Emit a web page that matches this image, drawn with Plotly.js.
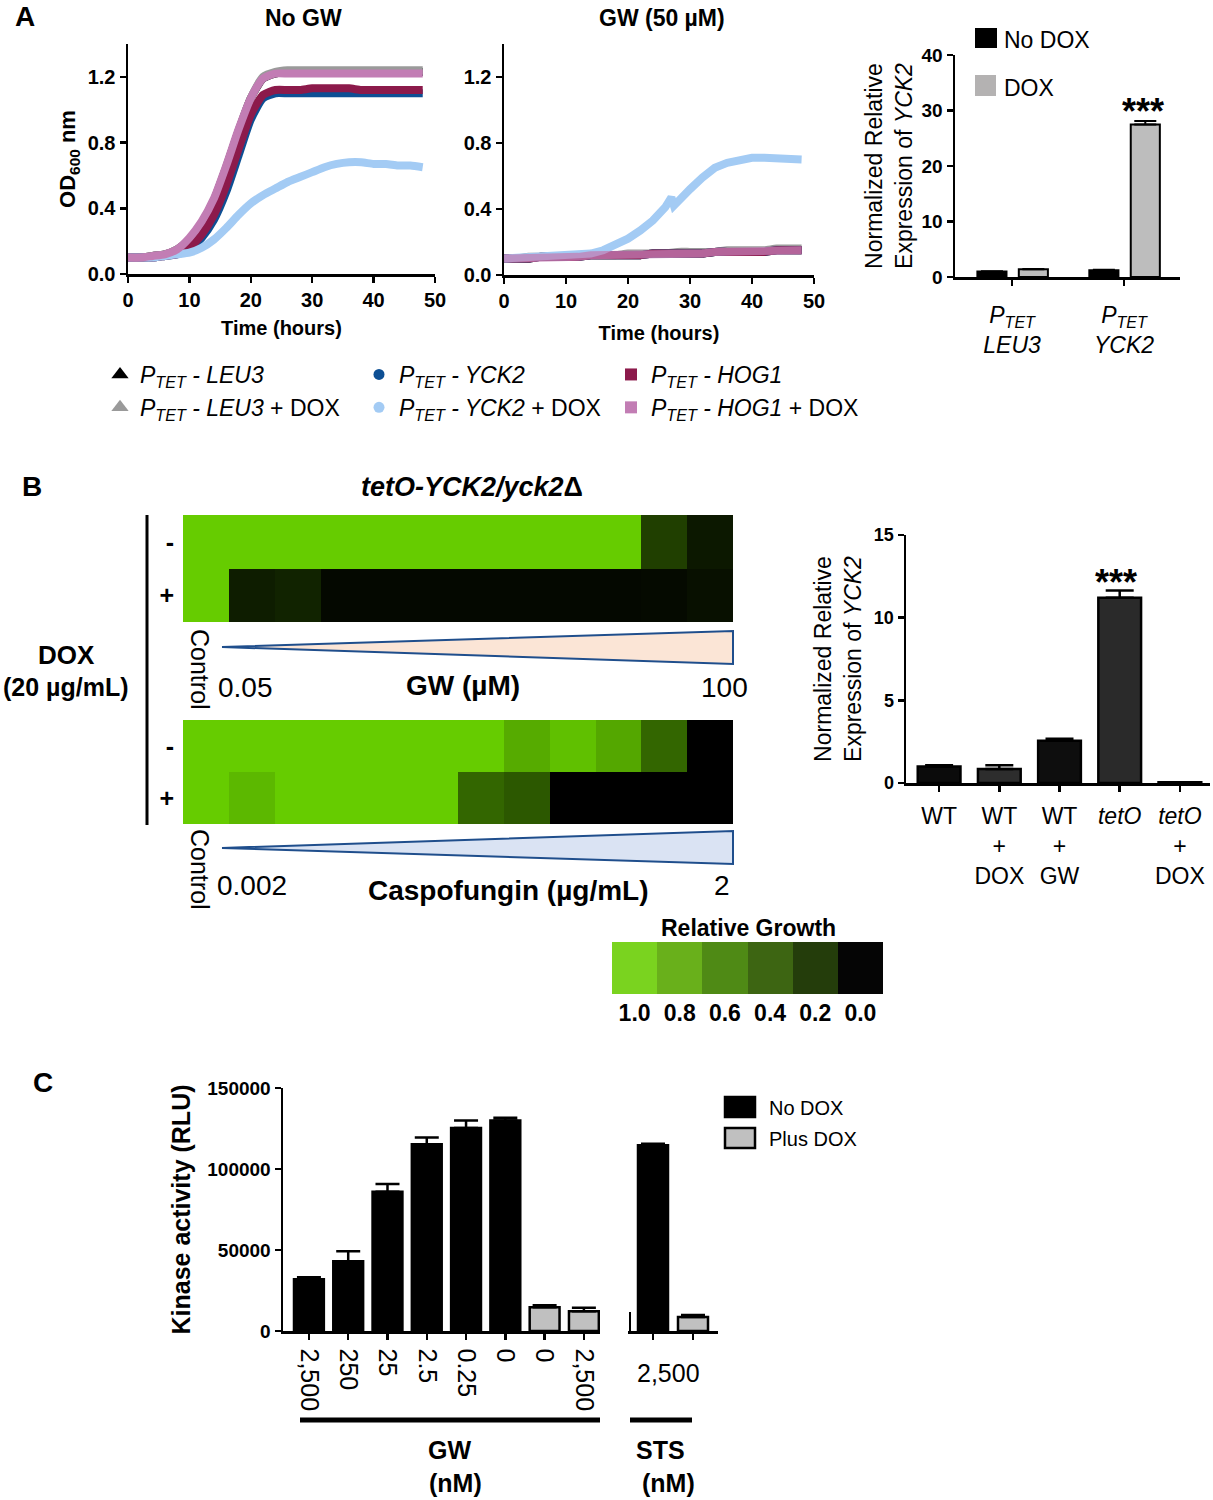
<!DOCTYPE html>
<html><head><meta charset="utf-8">
<script src="https://cdn.plot.ly/plotly-3.0.1.min.js"></script>
<style>body{margin:0;background:#fff}#chart{width:1213px;height:1500px}</style>
</head><body><div id="chart"></div>
<script>
// ---------- Panel A: growth curves ----------
const timeH = [0,2,4,6,8,10,12,14,16,18,20,22,24,26,28,30,32,34,36,38,40,42,44,46,48];
const noGwLeu3     = [0.10,0.10,0.11,0.12,0.15,0.21,0.31,0.45,0.65,0.87,1.07,1.19,1.22,1.23,1.23,1.23,1.23,1.23,1.23,1.23,1.23,1.23,1.23,1.23,1.23];
const noGwLeu3Dox  = [0.10,0.10,0.11,0.12,0.15,0.21,0.31,0.45,0.65,0.87,1.07,1.20,1.23,1.24,1.24,1.24,1.24,1.24,1.24,1.24,1.24,1.24,1.24,1.24,1.24];
const noGwYck2     = [0.10,0.10,0.10,0.11,0.12,0.15,0.22,0.33,0.50,0.72,0.94,1.07,1.10,1.10,1.10,1.10,1.10,1.10,1.10,1.10,1.10,1.10,1.10,1.10,1.10];
const noGwYck2Dox  = [0.10,0.10,0.10,0.11,0.12,0.13,0.16,0.21,0.28,0.36,0.43,0.48,0.52,0.56,0.59,0.62,0.65,0.67,0.68,0.68,0.67,0.67,0.66,0.66,0.65];
const noGwHog1     = [0.10,0.10,0.10,0.11,0.12,0.16,0.24,0.36,0.54,0.76,0.97,1.09,1.12,1.12,1.12,1.13,1.13,1.13,1.13,1.12,1.12,1.12,1.12,1.12,1.12];
const noGwHog1Dox  = [0.10,0.10,0.11,0.12,0.15,0.22,0.32,0.46,0.66,0.88,1.07,1.19,1.22,1.22,1.22,1.22,1.22,1.22,1.22,1.22,1.22,1.22,1.22,1.22,1.22];

const gwLeu3Dox = [0.10,0.10,0.11,0.11,0.11,0.11,0.12,0.12,0.12,0.12,0.13,0.13,0.13,0.13,0.14,0.14,0.14,0.14,0.15,0.15,0.15,0.15,0.16,0.16,0.16];
const gwFlat    = [0.10,0.10,0.10,0.11,0.11,0.11,0.11,0.12,0.12,0.12,0.12,0.12,0.13,0.13,0.13,0.13,0.13,0.14,0.14,0.14,0.14,0.14,0.15,0.15,0.15];
const gwYck2DoxTime = [0,4,8,10,12,14,16,18,20,22,24,26,27,27.4,28,30,32,34,36,38,40,42,44,46,48];
const gwYck2Dox     = [0.10,0.11,0.11,0.12,0.12,0.13,0.15,0.18,0.22,0.27,0.33,0.41,0.47,0.42,0.44,0.52,0.59,0.65,0.68,0.70,0.71,0.71,0.71,0.70,0.70];

const strainNames = ['<i>P<sub>TET</sub> - LEU3</i>','<i>P<sub>TET</sub> - LEU3</i> + DOX',
                     '<i>P<sub>TET</sub> - YCK2</i>','<i>P<sub>TET</sub> - YCK2</i> + DOX',
                     '<i>P<sub>TET</sub> - HOG1</i>','<i>P<sub>TET</sub> - HOG1</i> + DOX'];

// ---------- Panel A: qPCR ----------
const aCats = ['<i>P<sub>TET</sub><br>LEU3</i>','<i>P<sub>TET</sub><br>YCK2</i>'];
const aNoDox = [1.0, 1.2];
const aNoDoxErr = [0.05, 0.1];
const aDox = [1.4, 27.5];
const aDoxErr = [0.05, 0.6];

// ---------- Panel B: heatmaps ----------
const gwMinus = [1,1,1,1,1,1,1,1,1,1,0.31,0.12];
const gwPlus  = [1,0.14,0.17,0.04,0.04,0.04,0.04,0.04,0.04,0.04,0.05,0.08];
const caspoMinus = [1,1,1,1,1,1,1,0.84,0.94,0.82,0.5,0];
const caspoPlus  = [1,0.9,1,1,1,1,0.5,0.43,0,0,0,0];
const doxRows = ['+','-'];

const growthLabels = ['1.0','0.8','0.6','0.4','0.2','0.0'];
const growthLegendVals = [1.0,0.8,0.6,0.4,0.2,0.0];

// ---------- Panel B: qPCR ----------
const bCats = ['WT','WT<br>+<br>DOX','WT<br>+<br>GW','<i>tetO</i>','<i>tetO</i><br>+<br>DOX'];
const bVals = [1.0, 0.85, 2.55, 11.2, 0.04];
const bErr  = [0.07, 0.22, 0.12, 0.45, 0];

// ---------- Panel C: kinase ----------
const cGwLabels = ['2,500','250','25','2.5','0.25','0','0','2,500'];
const cNoDoxGW = [32000, 43000, 86000, 115300, 125300, 129900];
const cNoDoxGWErr = [1200, 6200, 4800, 4100, 4600, 1800];
const cPlusDoxGW = [14700, 12200];
const cPlusDoxGWErr = [1200, 2200];
const cNoDoxSTS = [114700];
const cNoDoxSTSErr = [900];
const cPlusDoxSTS = [8700];
const cPlusDoxSTSErr = [1200];

// ---------- helpers ----------
const W = 1213, H = 1500;
const F = 'Liberation Sans, Arial, Helvetica, sans-serif';
const px = x => x / W;
const py = y => 1 - y / H;
const idx = n => Array.from({length:n}, (_, i) => i);

function ann(text, x, y, size, extra) {
  return Object.assign({text, x: px(x), y: py(y), xref:'paper', yref:'paper', showarrow:false,
    xanchor:'center', yanchor:'middle', font:{family:F, size, color:'#000'}}, extra || {});
}
function bold(size) { return {family:F, size, color:'#000', weight:'bold'}; }

const axBase = {showline:true, linecolor:'#000', linewidth:2.5, ticks:'outside', ticklen:6, tickwidth:2.5,
  tickcolor:'#000', showgrid:false, zeroline:false, fixedrange:true, automargin:false};

const colors = {leu3:'#000000', leu3Dox:'#9a9a9a', yck2:'#0d4f94', yck2Dox:'#a3cbf4', hog1:'#8c1a4b', hog1Dox:'#c27db4'};

const traces = [];
function line(x, y, color, xa, ya, shape) {
  traces.push({type:'scatter', mode:'lines', x, y, xaxis:xa, yaxis:ya, showlegend:false,
    line:{color, width:8, shape: shape || 'spline', smoothing:0.6}, hoverinfo:'skip'});
}
// No GW
line(timeH, noGwLeu3, colors.leu3, 'x', 'y');
line(timeH, noGwLeu3Dox, colors.leu3Dox, 'x', 'y');
line(timeH, noGwYck2, colors.yck2, 'x', 'y');
line(timeH, noGwHog1, colors.hog1, 'x', 'y');
line(timeH, noGwYck2Dox, colors.yck2Dox, 'x', 'y');
line(timeH, noGwHog1Dox, colors.hog1Dox, 'x', 'y');
// GW
line(timeH, gwFlat, colors.leu3, 'x2', 'y2');
line(timeH, gwLeu3Dox, colors.leu3Dox, 'x2', 'y2');
line(timeH, gwFlat, colors.yck2, 'x2', 'y2');
line(timeH, gwFlat, colors.hog1, 'x2', 'y2');
line(gwYck2DoxTime, gwYck2Dox, colors.yck2Dox, 'x2', 'y2', 'linear');
traces.push({type:'scatter', mode:'lines', x:timeH, y:gwFlat, xaxis:'x2', yaxis:'y2', showlegend:false, opacity:0.75,
  line:{color:colors.hog1Dox, width:8}, hoverinfo:'skip'});

// legend-only markers
const legSpec = [
  [strainNames[0], 'triangle-up', colors.leu3, 15, 'legend'],
  [strainNames[1], 'triangle-up', colors.leu3Dox, 15, 'legend'],
  [strainNames[2], 'circle', colors.yck2, 11, 'legend2'],
  [strainNames[3], 'circle', colors.yck2Dox, 11, 'legend2'],
  [strainNames[4], 'square', colors.hog1, 12, 'legend3'],
  [strainNames[5], 'square', colors.hog1Dox, 12, 'legend3'],
];
legSpec.forEach(s => traces.push({type:'scatter', mode:'markers', x:[null], y:[null], xaxis:'x', yaxis:'y',
  name:s[0], legend:s[4], marker:{symbol:s[1], color:s[2], size:s[3]}, showlegend:true}));

// A right bars
traces.push({type:'bar', x:[0,1], y:aNoDox, xaxis:'x3', yaxis:'y3', width:0.26, offset:-0.31, showlegend:false,
  marker:{color:'#000', line:{color:'#000', width:2}},
  error_y:{type:'data', array:aNoDoxErr, arrayminus:[0,0], symmetric:false, color:'#000', thickness:2, width:11}});
traces.push({type:'bar', x:[0,1], y:aDox, xaxis:'x3', yaxis:'y3', width:0.26, offset:0.06, showlegend:false,
  marker:{color:'#bdbdbd', line:{color:'#000', width:2}},
  error_y:{type:'data', array:aDoxErr, arrayminus:[0,0], symmetric:false, color:'#000', thickness:2, width:11}});

// B heatmaps
const heatScale = [[0,'#000000'],[1,'#66cc00']];
traces.push({type:'heatmap', z:[gwPlus, gwMinus], x:idx(12), y:[0,1], xaxis:'x4', yaxis:'y4',
  colorscale:heatScale, zmin:0, zmax:1, showscale:false, hoverinfo:'skip'});
traces.push({type:'heatmap', z:[caspoPlus, caspoMinus], x:idx(12), y:[0,1], xaxis:'x5', yaxis:'y5',
  colorscale:heatScale, zmin:0, zmax:1, showscale:false, hoverinfo:'skip'});
// relative growth key
traces.push({type:'heatmap', z:[growthLegendVals], x:idx(6), y:[0], xaxis:'x7', yaxis:'y7',
  colorscale:[[0,'#050505'],[0.2,'#243d0b'],[0.4,'#3d6512'],[0.6,'#4f8a15'],[0.8,'#69b01b'],[1,'#7ad31f']],
  zmin:0, zmax:1, showscale:false, hoverinfo:'skip'});

// B right bars
traces.push({type:'bar', x:idx(5), y:bVals, xaxis:'x6', yaxis:'y6', width:0.71, showlegend:false,
  marker:{color:['#0b0b0b','#2d2d2d','#0e0e0e','#2a2a2a','#000000'], line:{color:'#000', width:2.5}},
  error_y:{type:'data', array:bErr, arrayminus:[0,0,0,0,0], symmetric:false, color:'#000', thickness:2.5, width:14}});

// C bars
traces.push({type:'bar', x:idx(6), y:cNoDoxGW, xaxis:'x8', yaxis:'y8', width:0.76, offset:-0.38, showlegend:false,
  marker:{color:'#000', line:{color:'#000', width:2.5}},
  error_y:{type:'data', array:cNoDoxGWErr, arrayminus:[0,0,0,0,0,0], symmetric:false, color:'#000', thickness:2.5, width:12}});
traces.push({type:'bar', x:[6,7], y:cPlusDoxGW, xaxis:'x8', yaxis:'y8', width:0.76, offset:-0.38, showlegend:false,
  marker:{color:'#c0c0c0', line:{color:'#000', width:2.5}},
  error_y:{type:'data', array:cPlusDoxGWErr, arrayminus:[0,0], symmetric:false, color:'#000', thickness:2.5, width:12}});
traces.push({type:'bar', x:[0], y:cNoDoxSTS, xaxis:'x9', yaxis:'y9', width:0.75, offset:-0.375, showlegend:false,
  marker:{color:'#000', line:{color:'#000', width:2.5}},
  error_y:{type:'data', array:cNoDoxSTSErr, arrayminus:[0], symmetric:false, color:'#000', thickness:2.5, width:12}});
traces.push({type:'bar', x:[1], y:cPlusDoxSTS, xaxis:'x9', yaxis:'y9', width:0.75, offset:-0.375, showlegend:false,
  marker:{color:'#c0c0c0', line:{color:'#000', width:2.5}},
  error_y:{type:'data', array:cPlusDoxSTSErr, arrayminus:[0], symmetric:false, color:'#000', thickness:2.5, width:12}});

// ---------- layout ----------
const legFont = {family:F, size:23, color:'#000'};
const layout = {
  width: W, height: H, margin:{l:0,r:0,t:0,b:0}, paper_bgcolor:'#fff', plot_bgcolor:'rgba(0,0,0,0)',
  font:{family:F, color:'#000'}, barmode:'overlay', showlegend:true,
  // A left
  xaxis: Object.assign({}, axBase, {domain:[px(128), px(435)], range:[0,50], tickvals:[0,10,20,30,40,50], anchor:'y',
    tickfont:bold(20), title:{text:'Time (hours)', font:bold(20), standoff:12}}),
  yaxis: Object.assign({}, axBase, {domain:[py(274), py(44)], range:[0,1.4], tickvals:[0,0.4,0.8,1.2], ticktext:['0.0','0.4','0.8','1.2'],
    anchor:'x', tickfont:bold(20), title:{text:'OD<sub>600</sub> nm', font:bold(22), standoff:6}}),
  // A middle
  xaxis2: Object.assign({}, axBase, {domain:[px(504), px(814)], range:[0,50], tickvals:[0,10,20,30,40,50], anchor:'y2',
    tickfont:bold(20), title:{text:'Time (hours)', font:bold(20), standoff:16}}),
  yaxis2: Object.assign({}, axBase, {domain:[py(275), py(44)], range:[0,1.4], tickvals:[0,0.4,0.8,1.2], ticktext:['0.0','0.4','0.8','1.2'],
    anchor:'x2', tickfont:bold(20)}),
  // A right
  xaxis3: Object.assign({}, axBase, {domain:[px(955), px(1180)], range:[-0.51,1.5], tickvals:[0,1], ticktext:aCats, anchor:'y3',
    tickfont:{family:F, size:23, color:'#000'}, ticklabelstandoff:10}),
  yaxis3: Object.assign({}, axBase, {domain:[py(277), py(55)], range:[0,40], dtick:10, anchor:'x3', tickfont:bold(19),
    title:{text:'Normalized Relative<br>Expression of <i>YCK2</i>', font:{family:F, size:23, color:'#000'}, standoff:3}}),
  // B heatmaps
  xaxis4: {domain:[px(183), px(733)], range:[-0.5,11.5], visible:false, anchor:'y4', fixedrange:true},
  yaxis4: {domain:[py(622), py(515)], range:[-0.5,1.5], tickvals:[0,1], ticktext:doxRows, showline:false, showgrid:false,
    zeroline:false, ticks:'', tickfont:bold(25), ticklabelstandoff:8, anchor:'x4', fixedrange:true},
  xaxis5: {domain:[px(183), px(733)], range:[-0.5,11.5], visible:false, anchor:'y5', fixedrange:true},
  yaxis5: {domain:[py(824), py(720)], range:[-0.5,1.5], tickvals:[0,1], ticktext:doxRows, showline:false, showgrid:false,
    zeroline:false, ticks:'', tickfont:bold(25), ticklabelstandoff:8, anchor:'x5', fixedrange:true},
  // B right
  xaxis6: Object.assign({}, axBase, {domain:[px(906), px(1210)], range:[-0.55,4.5], tickvals:idx(5), ticktext:bCats, anchor:'y6',
    tickfont:{family:F, size:23, color:'#000'}, ticklabelstandoff:5}),
  yaxis6: Object.assign({}, axBase, {domain:[py(783), py(535)], range:[0,15], dtick:5, anchor:'x6', tickfont:bold(18),
    title:{text:'Normalized Relative<br>Expression of <i>YCK2</i>', font:{family:F, size:23, color:'#000'}, standoff:6}}),
  // growth key
  xaxis7: {domain:[px(612), px(883)], range:[-0.5,5.5], tickvals:idx(6), ticktext:growthLabels, showline:false, showgrid:false,
    zeroline:false, ticks:'', tickfont:bold(23), ticklabelstandoff:3, anchor:'y7', fixedrange:true},
  yaxis7: {domain:[py(994), py(942)], range:[-0.5,0.5], visible:false, anchor:'x7', fixedrange:true},
  // C
  xaxis8: Object.assign({}, axBase, {domain:[px(283), px(600)], range:[-0.66,7.41], tickvals:idx(8), ticktext:cGwLabels, tickangle:90,
    anchor:'y8', tickfont:{family:F, size:25, color:'#000'}, ticklabelstandoff:4}),
  yaxis8: Object.assign({}, axBase, {domain:[py(1331), py(1088)], range:[0,150000], dtick:50000, tickformat:'d', anchor:'x8',
    tickfont:bold(19), title:{text:'Kinase activity (RLU)', font:bold(25), standoff:10}}),
  xaxis9: Object.assign({}, axBase, {domain:[px(628), px(718)], range:[-0.625,1.625], tickvals:[0,1], showticklabels:false, anchor:'y9'}),
  yaxis9: {domain:[py(1331), py(1088)], range:[0,150000], visible:false, anchor:'x9', fixedrange:true},
  legend:  {x:px(100), y:py(353), xanchor:'left', yanchor:'top', bgcolor:'rgba(0,0,0,0)', font:legFont, tracegroupgap:0},
  legend2: {x:px(359), y:py(353), xanchor:'left', yanchor:'top', bgcolor:'rgba(0,0,0,0)', font:legFont, tracegroupgap:0},
  legend3: {x:px(611), y:py(353), xanchor:'left', yanchor:'top', bgcolor:'rgba(0,0,0,0)', font:legFont, tracegroupgap:0},
  shapes: [
    {type:'line', xref:'paper', yref:'paper', x0:px(147), x1:px(147), y0:py(515), y1:py(825), line:{color:'#000', width:3}},
    {type:'path', xref:'paper', yref:'paper', path:`M ${px(222)} ${py(647)} L ${px(733)} ${py(631)} L ${px(733)} ${py(664)} Z`,
      fillcolor:'#fbe5d6', line:{color:'#1f4e8c', width:2}},
    {type:'path', xref:'paper', yref:'paper', path:`M ${px(222)} ${py(848)} L ${px(733)} ${py(831)} L ${px(733)} ${py(864)} Z`,
      fillcolor:'#dae3f3', line:{color:'#1f4e8c', width:2}},
    {type:'line', xref:'paper', yref:'paper', x0:px(300), x1:px(600), y0:py(1420), y1:py(1420), line:{color:'#000', width:5}},
    {type:'line', xref:'paper', yref:'paper', x0:px(630), x1:px(692), y0:py(1420), y1:py(1420), line:{color:'#000', width:5}},
    {type:'line', xref:'paper', yref:'paper', x0:px(630), x1:px(630), y0:py(1312), y1:py(1331), line:{color:'#000', width:2}},
    // legend swatches A right
    {type:'rect', xref:'paper', yref:'paper', x0:px(975), x1:px(997), y0:py(48), y1:py(28), fillcolor:'#000', line:{width:0}},
    {type:'rect', xref:'paper', yref:'paper', x0:px(975), x1:px(996), y0:py(96), y1:py(75), fillcolor:'#b4b2b2', line:{width:0}},
    // legend swatches C
    {type:'rect', xref:'paper', yref:'paper', x0:px(725), x1:px(755), y0:py(1117), y1:py(1097), fillcolor:'#000', line:{color:'#000', width:2.5}},
    {type:'rect', xref:'paper', yref:'paper', x0:px(725), x1:px(755), y0:py(1148), y1:py(1128), fillcolor:'#c0c0c0', line:{color:'#000', width:2.5}},
  ],
  annotations: [
    ann('A', 25, 16, 28, {font:bold(28)}),
    ann('B', 32, 486, 28, {font:bold(28)}),
    ann('C', 43, 1082, 28, {font:bold(28)}),
    ann('No GW', 303, 18, 23, {font:bold(23)}),
    ann('GW (50 µM)', 662, 18, 23, {font:bold(23)}),
    ann('No DOX', 1002, 40, 23, {xanchor:'left'}),
    ann('DOX', 1002, 88, 23, {xanchor:'left'}),
    ann('***', 1143, 112, 36, {font:bold(36)}),
    ann('<i>tetO-YCK2/yck2</i>Δ', 472, 487, 27, {font:bold(27)}),
    ann('DOX', 66, 655, 26, {font:bold(26)}),
    ann('(20 µg/mL)', 66, 687, 25, {font:bold(25)}),
    ann('Control', 200, 669, 25, {textangle:90}),
    ann('Control', 200, 869, 25, {textangle:90}),
    ann('0.05', 245, 687, 28),
    ann('GW (µM)', 463, 685, 28, {font:bold(28)}),
    ann('100', 724, 687, 28),
    ann('0.002', 252, 885, 28),
    ann('Caspofungin (µg/mL)', 508, 890, 28, {font:bold(28)}),
    ann('2', 722, 885, 28),
    ann('***', 1116, 582, 36, {font:bold(36)}),
    ann('Relative Growth', 748, 928, 23, {font:bold(23)}),
    ann('No DOX', 767, 1108, 20, {xanchor:'left'}),
    ann('Plus DOX', 767, 1139, 20, {xanchor:'left'}),
    ann('2,500', 668, 1373, 25),
    ann('GW', 449, 1450, 25, {font:bold(25)}),
    ann('(nM)', 455, 1483, 25, {font:bold(25)}),
    ann('STS', 660, 1450, 25, {font:bold(25)}),
    ann('(nM)', 668, 1483, 25, {font:bold(25)}),
  ]
};

Plotly.newPlot('chart', traces, layout, {displayModeBar:false, staticPlot:true});
</script></body></html>
